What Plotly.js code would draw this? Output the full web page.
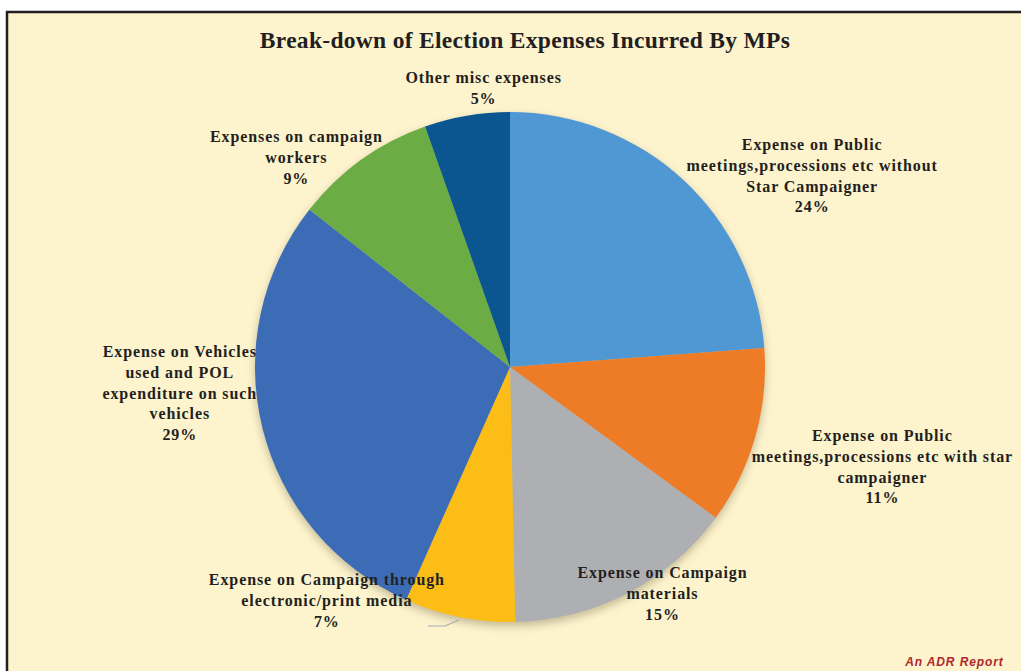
<!DOCTYPE html>
<html>
<head>
<meta charset="utf-8">
<script src="https://cdn.plot.ly/plotly-3.0.1.min.js"></script>
<style>
html,body{margin:0;padding:0;background:#ffffff;}
#chart{width:1021px;height:671px;}
#chart .annotation-text{letter-spacing:0.9px;}
#chart .gtitle{letter-spacing:0.3px;}
#chart .pielayer .trace{filter:drop-shadow(0px 4px 4px rgba(90,80,50,0.35));}
</style>
</head>
<body>
<div id="chart"></div>
<script>
// ---- data ----
const categories = [
  "Expense on Public meetings,processions etc without Star Campaigner",
  "Expense on Public meetings,processions etc with star campaigner",
  "Expense on Campaign materials",
  "Expense on Campaign through electronic/print media",
  "Expense on Vehicles used and POL expenditure on such vehicles",
  "Expenses on campaign workers",
  "Other misc expenses"
];
const wrappedLabels = [
  "Expense on Public<br>meetings,processions etc without<br>Star Campaigner",
  "Expense on Public<br>meetings,processions etc with star<br>campaigner",
  "Expense on Campaign<br>materials",
  "Expense on Campaign through<br>electronic/print media",
  "Expense on Vehicles<br>used and POL<br>expenditure on such<br>vehicles",
  "Expenses on campaign<br>workers",
  "Other misc expenses"
];
const shares = [23.8, 11.25, 14.6, 7.0, 28.9, 9.0, 5.4];
const sliceColors = ["#4f98d3", "#ee7b26", "#aeafb3", "#fbbd16", "#3d6cb6", "#6cac45", "#0b5691"];

// ---- layout helpers (label placement, pixels) ----
const W = 1021, H = 671;
const labelCenters = [
  [812, 175], [882, 466], [662, 593], [327, 600], [180, 393], [296, 157], [483, 88]
];
const px = x => x / W;
const py = y => 1 - y / H;
const total = shares.reduce((a, b) => a + b, 0);

const annotations = wrappedLabels.map((t, i) => ({
  text: "<b>" + t + "<br>" + Math.round(shares[i] / total * 100) + "%</b>",
  x: px(labelCenters[i][0]), y: py(labelCenters[i][1]),
  xref: "paper", yref: "paper", xanchor: "center", yanchor: "middle",
  showarrow: false, align: "center",
  font: {family: "Liberation Serif, Times New Roman, serif", size: 16, color: "#231f20"}
}));
annotations.push({
  text: "<b><i>An ADR Report</i></b>",
  x: px(1001), y: py(662), xref: "paper", yref: "paper",
  xanchor: "right", yanchor: "middle", showarrow: false,
  font: {family: "Liberation Sans, Arial, sans-serif", size: 12, color: "#b0262b"}
});

const cx = 510, cy = 367, r = 255;
const trace = {
  type: "pie",
  labels: categories,
  values: shares,
  sort: false,
  direction: "clockwise",
  rotation: 0,
  textinfo: "none",
  hoverinfo: "label+percent",
  marker: {colors: sliceColors, line: {width: 0}},
  domain: {x: [px(cx - r), px(cx + r)], y: [py(cy + r), py(cy - r)]},
  showlegend: false
};

const layout = {
  width: W, height: H,
  margin: {l: 0, r: 0, t: 0, b: 0},
  paper_bgcolor: "#ffffff",
  title: {
    text: "<b>Break-down of Election Expenses Incurred By MPs</b>",
    x: px(525), xanchor: "center", y: py(40), yanchor: "middle",
    font: {family: "Liberation Serif, Times New Roman, serif", size: 23.5, color: "#231f20"}
  },
  shapes: [
    {type: "rect", xref: "paper", yref: "paper", layer: "below",
     x0: px(7), x1: 1.02, y0: -0.02, y1: py(12),
     fillcolor: "#fdf3cd", line: {color: "#231f20", width: 2.5}},
    {type: "path", xref: "paper", yref: "paper", layer: "above",
     path: "M " + px(459) + "," + py(620) + " L " + px(445) + "," + py(626) + " L " + px(428) + "," + py(626),
     line: {color: "#a7a9b5", width: 1.2}}
  ],
  annotations: annotations
};

Plotly.newPlot("chart", [trace], layout, {displayModeBar: false, staticPlot: true});
</script>
</body>
</html>
